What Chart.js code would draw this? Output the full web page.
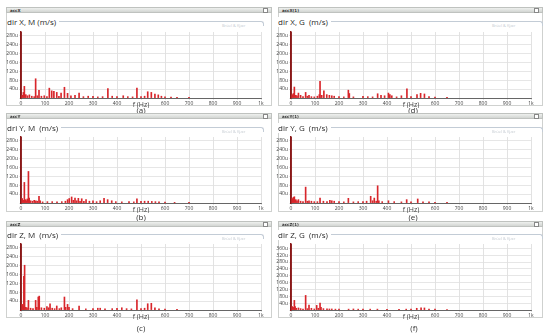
<!DOCTYPE html>
<html>
<head>
<meta charset="utf-8">
<script src="https://cdn.jsdelivr.net/npm/chart.js@4.4.0/dist/chart.umd.min.js"></script>
<style>
  body { margin: 0; width: 550px; height: 335px; background: #fff; position: relative; overflow: hidden; font-family: "Open Sans", sans-serif; }
  .panel { position: absolute; border: 1px solid #cfd1cf; box-sizing: border-box; }
  .bar { position: absolute; height: 6px; box-sizing: border-box; background: linear-gradient(#eef0ee, #d2d5d2); border: 1px solid #bfc2bf; font: bold 4px "DejaVu Sans", sans-serif; color: #333; line-height: 5px; padding-left: 3px; }
  .bar i { position: absolute; right: 3px; top: 0px; width: 3px; height: 3px; border: 1px solid #888; background: #fff; }
  .box { position: absolute; height: 4px; border-top: 1px solid #c3ccd6; border-right: 1px solid #c3ccd6; border-radius: 0 3px 0 0; }
  .ttl { position: absolute; font-size: 8px; color: #2a2a2a; white-space: pre; background: #fff; padding-right: 3px; line-height: 10px; }
  .bk { position: absolute; font-size: 4px; color: #c5cbd2; white-space: nowrap; }
  .cap { position: absolute; font-size: 8px; color: #333; transform: translateX(-50%); line-height: 10px; }
  canvas { position: absolute; }
</style>
</head>
<body>

<!-- left column -->
<div class="panel" style="left:6px;top:7px;width:266px;height:99px"></div>
<div class="bar" style="left:6px;top:7px;width:266px">accX<i></i></div>
<div class="box" style="left:40px;top:21px;width:223px"></div>
<div class="ttl" style="left:7px;top:17px">dir X, M (m/s)</div>
<div class="bk" style="left:222px;top:23px">Brüel &amp; Kjær</div>
<canvas id="chartXM" width="266" height="80" style="left:6px;top:27.5px"></canvas>
<div class="cap" style="left:141px;top:105px">(a)</div>

<div class="panel" style="left:6px;top:113px;width:266px;height:99px"></div>
<div class="bar" style="left:6px;top:113px;width:266px">accY<i></i></div>
<div class="box" style="left:40px;top:127px;width:223px"></div>
<div class="ttl" style="left:7px;top:123px">dri Y, M  (m/s)</div>
<div class="bk" style="left:222px;top:129px">Brüel &amp; Kjær</div>
<canvas id="chartYM" width="266" height="80" style="left:6px;top:133px"></canvas>
<div class="cap" style="left:141px;top:212px">(b)</div>

<div class="panel" style="left:6px;top:221px;width:266px;height:97px"></div>
<div class="bar" style="left:6px;top:221px;width:266px">accZ<i></i></div>
<div class="box" style="left:40px;top:234px;width:223px"></div>
<div class="ttl" style="left:7px;top:230px">dir Z, M  (m/s)</div>
<div class="bk" style="left:222px;top:236px">Brüel &amp; Kjær</div>
<canvas id="chartZM" width="266" height="80" style="left:6px;top:240px"></canvas>
<div class="cap" style="left:141px;top:323px">(c)</div>

<!-- right column -->
<div class="panel" style="left:278px;top:7px;width:265px;height:99px"></div>
<div class="bar" style="left:278px;top:7px;width:265px">accX(1)<i></i></div>
<div class="box" style="left:312px;top:21px;width:230px"></div>
<div class="ttl" style="left:278px;top:17px">dir X, G  (m/s)</div>
<div class="bk" style="left:492px;top:23px">Brüel &amp; Kjær</div>
<canvas id="chartXG" width="267" height="80" style="left:276px;top:27.5px"></canvas>
<div class="cap" style="left:413px;top:105px">(d)</div>

<div class="panel" style="left:278px;top:113px;width:265px;height:99px"></div>
<div class="bar" style="left:278px;top:113px;width:265px">accY(1)<i></i></div>
<div class="box" style="left:312px;top:127px;width:230px"></div>
<div class="ttl" style="left:278px;top:123px">dir Y, G  (m/s)</div>
<div class="bk" style="left:492px;top:129px">Brüel &amp; Kjær</div>
<canvas id="chartYG" width="267" height="80" style="left:276px;top:133px"></canvas>
<div class="cap" style="left:413px;top:212px">(e)</div>

<div class="panel" style="left:278px;top:221px;width:265px;height:97px"></div>
<div class="bar" style="left:278px;top:221px;width:265px">accZ(1)<i></i></div>
<div class="box" style="left:312px;top:234px;width:230px"></div>
<div class="ttl" style="left:278px;top:230px">dir Z, G  (m/s)</div>
<div class="bk" style="left:492px;top:236px">Brüel &amp; Kjær</div>
<canvas id="chartZG" width="267" height="80" style="left:276px;top:240px"></canvas>
<div class="cap" style="left:414px;top:323px">(f)</div>

<script>
// spectrum peaks, frequency in Hz, amplitude in u(m/s)
const freqXM = [0, 5, 10, 14, 20, 27, 35, 45, 55, 61, 68, 75, 85, 97, 108, 118, 128, 137, 149, 158, 167, 181, 194, 208, 225, 242, 260, 280, 300, 320, 340, 362, 380, 400, 426, 445, 465, 483, 500, 515, 528, 543, 558, 572, 585, 600, 625, 650, 700]
const ampXM = [600, 12, 25, 52, 15, 10, 14, 8, 6, 86, 10, 34, 8, 10, 6, 44, 32, 30, 25, 8, 22, 48, 21, 10, 12, 22, 6, 8, 7, 5, 6, 42, 8, 6, 10, 6, 5, 44, 6, 8, 28, 25, 18, 14, 8, 5, 4, 3, 3]

const freqYM = [0, 5, 10, 14, 18, 22, 26, 31, 34, 40, 48, 55, 62, 68, 75, 80, 90, 110, 130, 150, 170, 185, 194, 201, 211, 218, 225, 232, 239, 246, 253, 262, 271, 285, 300, 315, 330, 346, 361, 378, 395, 420, 450, 470, 483, 500, 515, 530, 545, 560, 575, 600, 640, 700]
const ampYM = [600, 20, 12, 92, 15, 10, 18, 141, 22, 10, 8, 12, 10, 8, 30, 10, 5, 6, 6, 5, 6, 8, 15, 20, 27, 12, 22, 10, 21, 8, 19, 8, 15, 8, 10, 6, 10, 21, 15, 10, 6, 5, 6, 5, 19, 8, 8, 8, 7, 6, 5, 4, 3, 3]

const freqZM = [0, 5, 9, 12, 15, 20, 25, 31, 40, 50, 61, 66, 72, 76, 85, 97, 108, 115, 121, 130, 140, 149, 160, 168, 181, 186, 194, 200, 215, 242, 270, 300, 320, 330, 350, 380, 400, 420, 440, 460, 483, 500, 515, 528, 543, 558, 575, 600, 650]
const ampZM = [600, 25, 15, 150, 200, 12, 10, 43, 8, 6, 43, 12, 58, 62, 10, 8, 15, 10, 28, 8, 6, 18, 6, 10, 58, 12, 25, 12, 6, 18, 5, 6, 8, 8, 5, 6, 8, 10, 6, 5, 46, 6, 8, 28, 30, 10, 5, 4, 3]

const freqXG = [0, 5, 10, 14, 20, 25, 31, 40, 50, 61, 68, 75, 85, 97, 110, 118, 121, 128, 137, 149, 160, 170, 180, 200, 220, 239, 243, 260, 300, 320, 340, 361, 375, 390, 406, 412, 420, 440, 460, 483, 500, 525, 540, 556, 575, 600, 650]
const ampXG = [600, 15, 20, 49, 12, 10, 22, 12, 6, 25, 8, 12, 6, 5, 8, 15, 74, 12, 32, 15, 12, 10, 8, 6, 5, 35, 20, 5, 8, 6, 5, 19, 12, 10, 22, 15, 10, 5, 10, 41, 6, 15, 21, 18, 6, 4, 3]

const freqYG = [0, 5, 10, 14, 20, 25, 31, 40, 50, 61, 68, 75, 85, 97, 110, 121, 135, 150, 162, 170, 180, 200, 220, 239, 260, 280, 300, 315, 332, 340, 347, 355, 361, 366, 380, 406, 430, 460, 482, 500, 528, 550, 575, 600, 650]
const ampYG = [600, 20, 25, 28, 15, 10, 15, 8, 6, 71, 8, 10, 8, 6, 6, 22, 8, 6, 12, 10, 8, 6, 5, 21, 5, 6, 6, 8, 30, 10, 22, 8, 77, 10, 6, 10, 6, 5, 15, 5, 18, 5, 5, 3, 3]

const freqZG = [0, 5, 10, 14, 17, 22, 31, 40, 50, 61, 68, 75, 85, 97, 107, 114, 121, 125, 135, 150, 160, 170, 185, 200, 240, 260, 280, 300, 330, 360, 400, 450, 480, 500, 524, 542, 556, 575, 600, 650]
const ampZG = [800, 20, 15, 56, 20, 10, 12, 8, 6, 85, 8, 29, 10, 6, 27, 10, 40, 15, 8, 7, 6, 6, 5, 5, 5, 6, 5, 6, 5, 5, 4, 4, 5, 5, 10, 12, 12, 6, 5, 3]

const xTicks = [0, 100, 200, 300, 400, 500, 600, 700, 800, 900, 1000]
const xTickLabels = ['0', '100', '200', '300', '400', 'f (Hz)', '600', '700', '800', '900', '1k']
const yTicksM = [0, 40, 80, 120, 160, 200, 240, 280]
const yTicksZG = [0, 40, 80, 120, 160, 200, 240, 280, 320, 360]

function spectrumChart(id, freq, amp, yTicks, yMax, axisWidth, padRight) {
  const canvas = document.getElementById(id)
  return new Chart(canvas, {
    type: 'bar',
    data: {
      datasets: [{
        data: freq.map((f, i) => ({ x: f, y: amp[i] })),
        backgroundColor: ctx => (ctx.raw && ctx.raw.x === 0) ? '#8a1717' : '#d8262b',
        barThickness: 1,
        borderWidth: 0
      }]
    },
    options: {
      responsive: false,
      animation: false,
      layout: { padding: { top: 2, right: padRight, bottom: 0, left: 0 } },
      plugins: { legend: { display: false }, tooltip: { enabled: false } },
      scales: {
        x: {
          type: 'linear',
          offset: false,
          min: 0,
          max: 1000,
          afterBuildTicks: axis => { axis.ticks = xTicks.map(v => ({ value: v })) },
          afterFit: axis => { axis.height = 10 },
          ticks: {
            autoSkip: false,
            maxRotation: 0,
            padding: 1,
            color: '#444',
            callback: (v) => xTickLabels[xTicks.indexOf(v)],
            font: ctx => (ctx.tick && ctx.tick.value === 500)
              ? { family: 'Open Sans', size: 7 }
              : { family: 'Open Sans', size: 5 }
          },
          grid: { offset: false, color: '#dadada', lineWidth: 0.8, tickLength: 2 },
          border: { color: '#666', width: 1 }
        },
        y: {
          min: 0,
          max: yMax,
          afterBuildTicks: axis => { axis.ticks = yTicks.map(v => ({ value: v })) },
          afterFit: axis => { axis.width = axisWidth },
          ticks: {
            autoSkip: false,
            padding: 1,
            color: '#444',
            font: { family: 'Open Sans', size: 5 },
            callback: v => v === 0 ? '' : v + 'u'
          },
          grid: { color: '#e0e0e0', lineWidth: 0.8, tickLength: 2 },
          border: { color: '#8a1717', width: 1.5 }
        }
      }
    }
  })
}

spectrumChart('chartXM', freqXM, ampXM, yTicksM, 295, 15, 11)
spectrumChart('chartYM', freqYM, ampYM, yTicksM, 295, 15, 11)
spectrumChart('chartZM', freqZM, ampZM, yTicksM, 295, 15, 11)
spectrumChart('chartXG', freqXG, ampXG, yTicksM, 295, 15, 12)
spectrumChart('chartYG', freqYG, ampYG, yTicksM, 295, 15, 12)
spectrumChart('chartZG', freqZG, ampZG, yTicksZG, 385, 15, 12)
</script>
</body>
</html>
